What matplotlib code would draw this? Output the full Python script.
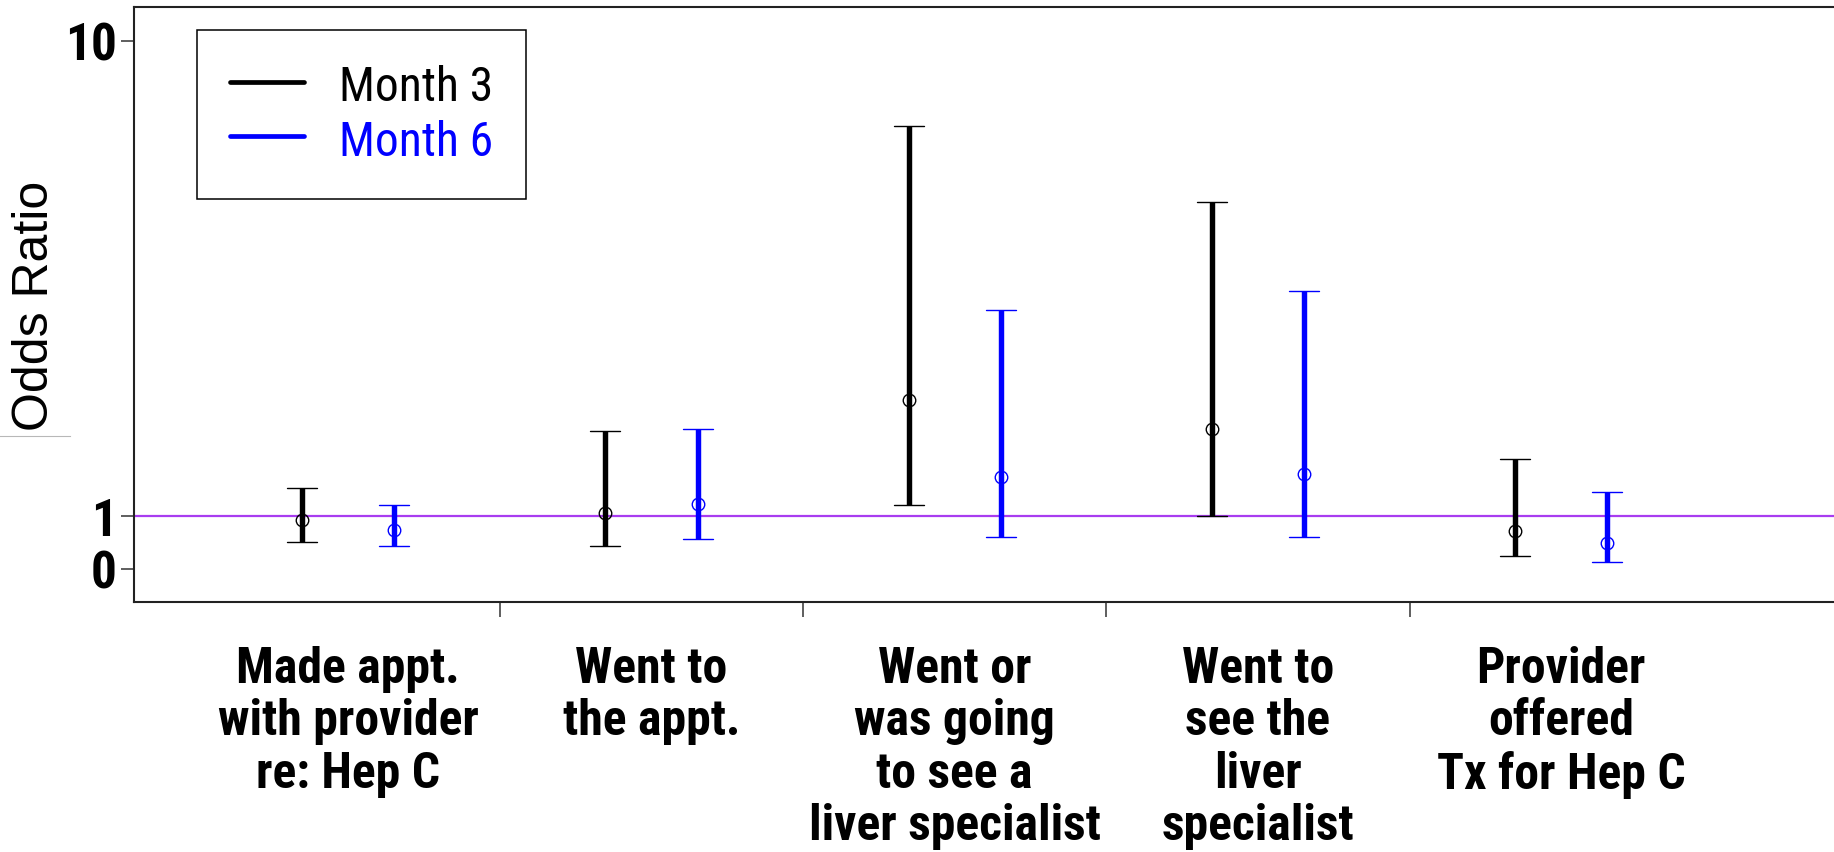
import os
import matplotlib
matplotlib.use("Agg")
import matplotlib.pyplot as plt
from matplotlib import font_manager
from matplotlib.font_manager import FontProperties
from matplotlib.lines import Line2D
from matplotlib.markers import MarkerStyle

# ---- data -------------------------------------------------------------
categories = [
    "Made appt.\nwith provider\nre: Hep C",
    "Went to\nthe appt.",
    "Went or\nwas going\nto see a\nliver specialist",
    "Went to\nsee the\nliver\nspecialist",
    "Provider\noffered\nTx for Hep C",
]
series_names = ["Month 3", "Month 6"]

or_m3 = [0.92, 1.06, 3.21, 2.65, 0.72]
lo_m3 = [0.51, 0.43, 1.22, 1.00, 0.24]
hi_m3 = [1.54, 2.62, 8.39, 6.96, 2.09]

or_m6 = [0.73, 1.23, 1.75, 1.79, 0.49]
lo_m6 = [0.44, 0.56, 0.60, 0.60, 0.14]
hi_m6 = [1.21, 2.65, 4.91, 5.27, 1.46]

y_ticks = [0, 1, 10]
reference_or = 1


# ---- fonts: prefer a narrow sans if one is installed ------------------
def narrow_font(bold):
    order = ["liberationsansnarrow", "robotocondensed", "notosans", "opensans"]
    best = None
    for f in font_manager.fontManager.ttflist:
        fn = os.path.basename(f.fname).lower().replace("_", "").replace("-", "")
        if not ("condensed" in fn or "narrow" in fn):
            continue
        if any(k in fn for k in ("italic", "oblique", "semi", "extra", "light",
                                 "black", "medium", "thin")):
            continue
        is_bold = "bold" in fn
        if is_bold != bold:
            continue
        for rank, key in enumerate(order):
            if fn.startswith(key):
                if best is None or rank < best[0]:
                    best = (rank, f.fname)
    if best:
        return FontProperties(fname=best[1])
    return FontProperties(family="Liberation Sans",
                          weight="bold" if bold else "normal")


bold_prop = narrow_font(True)
reg_prop = narrow_font(False)

W, H, DPI = 1834, 852, 100
fig = plt.figure(figsize=(W / DPI, H / DPI), dpi=DPI)
renderer = fig.canvas.get_renderer()


def sized(prop, size):
    p = prop.copy()
    p.set_size(size)
    return p


def fit_size(s, prop, width_px, max_size):
    w = renderer.get_text_width_height_descent(s, sized(prop, 40), ismath=False)[0]
    return min(max_size, 40 * width_px / w)


def line_step(prop):
    """Baseline-to-baseline distance (px) of multi-line text at linespacing 1."""
    t3 = fig.text(0, 0, "A\nA\nA", fontproperties=prop, linespacing=1.0)
    t1 = fig.text(0, 0, "A", fontproperties=prop, linespacing=1.0)
    h3 = t3.get_window_extent(renderer).height
    h1 = t1.get_window_extent(renderer).height
    t3.remove()
    t1.remove()
    return (h3 - h1) / 2


xlab_size = fit_size("liver specialist", bold_prop, 292, 37)
ytick_size = 37
leg_size = fit_size("Month 3", reg_prop, 154, 36)

left_px, right_px, top_px, bottom_px = 134, 1834, 7.3, 601.7
ax = fig.add_axes([left_px / W, 1 - bottom_px / H,
                   (right_px - left_px) / W, (bottom_px - top_px) / H])

colors = ["#000000", "#0000FF"]
offset = 0.152
pos = list(range(1, len(categories) + 1))

# reference line at OR = 1
ax.axhline(reference_or, color="#A83CF0", lw=1.6, zorder=1)

for k, (ors, los, his) in enumerate([(or_m3, lo_m3, hi_m3), (or_m6, lo_m6, hi_m6)]):
    xs = [p + (offset if k else -offset) for p in pos]
    yerr = [[o - l for o, l in zip(ors, los)], [h - o for o, h in zip(ors, his)]]
    _, caps, _ = ax.errorbar(xs, ors, yerr=yerr, fmt="o", color=colors[k],
                             ecolor=colors[k], elinewidth=3.9, capsize=11,
                             capthick=4.5, markersize=9, markerfacecolor="none",
                             markeredgewidth=1.0, markeredgecolor=colors[k],
                             zorder=3)
    for c in caps:
        c.set_marker(MarkerStyle("_", capstyle="round"))

ax.set_ylim(-0.619, 10.638)
ax.set_xlim(0.293, 5.900)

ax.set_yticks(y_ticks)
ax.set_yticklabels([str(t) for t in y_ticks])
for lab in ax.get_yticklabels():
    lab.set_fontproperties(bold_prop)
    lab.set_fontsize(ytick_size)
ax.tick_params(axis="y", length=9.4, width=1.1, pad=3, color="#333333")

# x labels: line spacing and offset below the axis
xprop = sized(bold_prop, xlab_size)
_, lp_h, lp_d = renderer.get_text_width_height_descent("lp", xprop, ismath=False)
_, cap_h, _ = renderer.get_text_width_height_descent("H", xprop, ismath=False)
asc = lp_h - lp_d
line_gap = 53.8
first_mid = 665.0
pad_px = first_mid + cap_h / 2 - asc - bottom_px
xls = line_gap / line_step(xprop)

ax.set_xticks([p + 0.5 for p in pos[:-1]])
ax.set_xticklabels([])
ax.tick_params(axis="x", which="major", length=11, width=1.1, color="#333333")
ax.set_xticks(pos, categories, minor=True)
ax.tick_params(axis="x", which="minor", length=0, pad=pad_px * 72 / DPI)
for lab in ax.get_xticklabels(minor=True):
    lab.set_fontproperties(xprop)
    lab.set_linespacing(xls)

for side in ["left", "bottom", "top"]:
    ax.spines[side].set_color("#222222")
    ax.spines[side].set_linewidth(1.5)
ax.spines["right"].set_visible(False)

fig.text(35.5 / W, 1 - 305.5 / H, "Odds Ratio", rotation=90, ha="center",
         va="center", family="Liberation Sans", fontsize=36)

# legend, laid out in pixels
fs_px = leg_size * DPI / 72
handles = [Line2D([], [], color=c, lw=3.4, solid_capstyle="round") for c in colors]
leg = ax.legend(handles, series_names, loc="upper left",
                bbox_to_anchor=(197 / W, 1 - 30 / H), bbox_transform=fig.transFigure,
                borderaxespad=0, frameon=True, fancybox=False, framealpha=1,
                edgecolor="#000000", prop=sized(reg_prop, leg_size),
                handlelength=74 / fs_px, handletextpad=35 / fs_px,
                borderpad=33 / fs_px, handleheight=50 / fs_px,
                labelspacing=6 / fs_px)
leg.get_frame().set_linewidth(1.1)
for txt, c in zip(leg.get_texts(), colors):
    txt.set_color(c)

# thin seam at the left edge
fig.add_artist(Line2D([0, 70 / W], [1 - 436 / H] * 2, color="#b8b8b8", lw=0.8,
                      transform=fig.transFigure))

fig.savefig("out.png", dpi=DPI)
